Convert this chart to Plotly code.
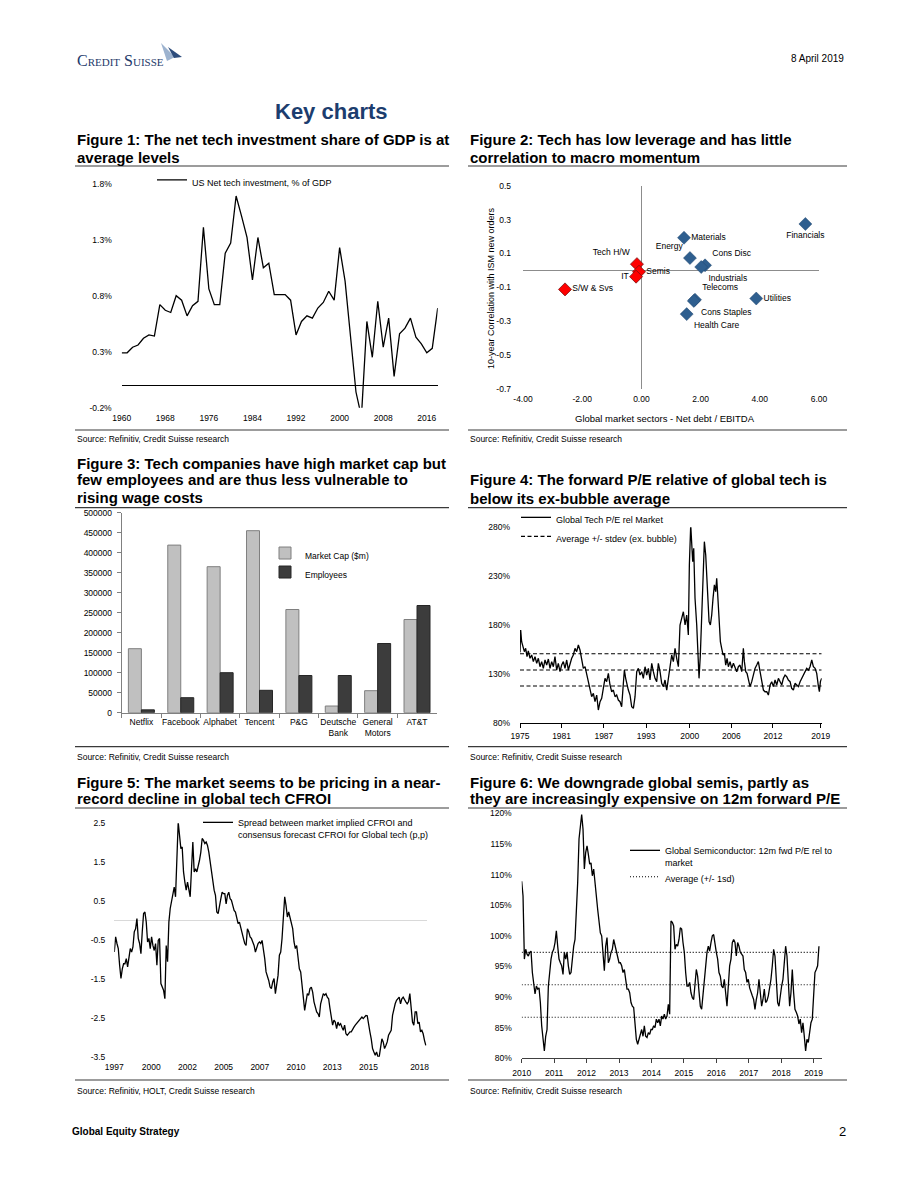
import plotly.graph_objects as go

W, H = 920, 1191
FONT = "Liberation Sans, Arial, sans-serif"


def fx(p):
    return p / W


def fy(p):
    return 1 - p / H


# ---------------- DATA ----------------
# Figure 1: US net tech investment, % of GDP (annual)
gdp_years = list(range(1960, 2019))
gdp_values = [0.29, 0.29, 0.34, 0.36, 0.42, 0.45, 0.44, 0.72, 0.67, 0.65,
              0.80, 0.76, 0.62, 0.71, 0.75, 1.41, 0.86, 0.72, 0.72, 1.18,
              1.27, 1.69, 1.51, 1.32, 0.94, 1.32, 1.05, 1.09, 0.81, 0.81,
              0.81, 0.76, 0.45, 0.57, 0.62, 0.60, 0.69, 0.74, 0.84, 0.76,
              1.23, 0.93, 0.45, -0.06, -0.28, 0.57, 0.25, 0.75, 0.34, 0.60,
              0.08, 0.46, 0.51, 0.60, 0.43, 0.37, 0.29, 0.33, 0.69]
gdp_yticks = [-0.2, 0.3, 0.8, 1.3, 1.8]

# Figure 2: sectors, net debt/EBITDA vs 10y correlation with ISM new orders
sectors = ["Financials", "Materials", "Energy", "Cons Disc", "Industrials",
           "Telecoms", "Cons Staples", "Utilities", "Health Care"]
sector_net_debt = [5.54, 1.44, 1.64, 2.15, 2.02, 1.81, 1.77, 3.88, 1.53]
sector_corr = [0.274, 0.193, 0.073, 0.030, 0.020, -0.173, -0.180, -0.166, -0.258]
sector_label_pos = ["bottom center", "middle right", "top left", "top right", "bottom right",
                    "top right", "bottom right", "middle right", "bottom right"]
tech_sectors = ["Tech H/W", "Semis", "IT", "S/W & Svs"]
tech_net_debt = [-0.15, -0.08, -0.18, -2.58]
tech_corr = [0.037, -0.008, -0.037, -0.112]
tech_label_pos = ["top left", "middle right", "middle left", "middle right"]
scatter_xticks = [-4, -2, 0, 2, 4, 6]
scatter_yticks = [-0.7, -0.5, -0.3, -0.1, 0.1, 0.3, 0.5]

# Figure 3: market cap vs employees
companies = ["Netflix", "Facebook", "Alphabet", "Tencent", "P&G",
             "Deutsche Bank", "General Motors", "AT&T"]
market_cap = [160000, 419000, 365000, 455000, 258000, 16700, 55000, 233000]
employees = [7100, 37500, 100000, 56000, 93000, 93000, 173000, 268000]
bar_yticks = list(range(0, 500001, 50000))

# Figure 4: Global tech P/E relative to market (%)
pe_years = [1975.00, 1975.10, 1975.24, 1975.44, 1975.64, 1975.83, 1976.03, 1976.22, 1976.47, 1976.71,
            1976.96, 1977.20, 1977.45, 1977.69, 1977.93, 1978.18, 1978.42, 1978.67, 1978.91, 1979.16,
            1979.40, 1979.65, 1979.89, 1980.13, 1980.38, 1980.62, 1980.87, 1981.11, 1981.36, 1981.60,
            1981.85, 1982.09, 1982.33, 1982.58, 1982.82, 1983.07, 1983.31, 1983.56, 1983.80, 1984.05,
            1984.29, 1984.54, 1984.78, 1985.02, 1985.27, 1985.51, 1985.76, 1986.00, 1986.25, 1986.49,
            1986.74, 1986.98, 1987.22, 1987.47, 1987.71, 1987.96, 1988.20, 1988.45, 1988.69, 1988.94,
            1989.18, 1989.42, 1989.67, 1989.91, 1990.16, 1990.31, 1990.50, 1990.70, 1990.89, 1991.14,
            1991.38, 1991.63, 1991.87, 1992.12, 1992.36, 1992.60, 1992.85, 1993.09, 1993.34, 1993.58,
            1993.83, 1994.07, 1994.32, 1994.56, 1994.80, 1995.05, 1995.29, 1995.54, 1995.78, 1996.03,
            1996.27, 1996.52, 1996.76, 1997.01, 1997.25, 1997.49, 1997.74, 1997.98, 1998.23, 1998.47,
            1998.72, 1998.96, 1999.21, 1999.45, 1999.69, 1999.84, 2000.04, 2000.18, 2000.33, 2000.48,
            2000.67, 2000.92, 2001.06, 2001.26, 2001.45, 2001.65, 2001.89, 2002.04, 2002.24, 2002.38,
            2002.53, 2002.73, 2002.92, 2003.12, 2003.31, 2003.51, 2003.70, 2003.85, 2004.00, 2004.19,
            2004.39, 2004.58, 2004.78, 2004.98, 2005.17, 2005.37, 2005.56, 2005.81, 2006.05, 2006.30,
            2006.54, 2006.79, 2007.03, 2007.27, 2007.52, 2007.76, 2007.91, 2008.11, 2008.30, 2008.50,
            2008.74, 2008.99, 2009.23, 2009.47, 2009.72, 2009.96, 2010.21, 2010.45, 2010.70, 2010.94,
            2011.19, 2011.43, 2011.68, 2011.92, 2012.16, 2012.41, 2012.65, 2012.90, 2013.14, 2013.39,
            2013.63, 2013.88, 2014.12, 2014.36, 2014.61, 2014.85, 2015.10, 2015.34, 2015.59, 2015.83,
            2016.08, 2016.32, 2016.57, 2016.81, 2017.05, 2017.30, 2017.54, 2017.79, 2018.03, 2018.28,
            2018.52, 2018.77, 2018.91, 2019.06, 2019.25]
pe_values = [152.0, 174.9, 162.9, 157.8, 152.7, 156.1, 147.6, 153.4, 145.9, 149.3,
             142.5, 147.6, 140.8, 145.9, 137.3, 142.5, 135.6, 144.2, 139.0, 145.2,
             135.6, 142.5, 137.3, 147.6, 133.9, 140.8, 132.2, 139.0, 142.5, 135.6,
             144.2, 133.9, 140.8, 145.9, 149.3, 156.1, 152.7, 159.5, 154.4, 145.9,
             135.6, 137.3, 128.8, 122.0, 111.7, 106.6, 110.0, 101.5, 108.3, 93.0,
             101.5, 104.9, 115.2, 125.4, 122.0, 130.5, 118.6, 111.7, 113.4, 106.6,
             108.3, 103.2, 101.5, 96.4, 120.3, 133.9, 125.4, 118.6, 113.4, 108.3,
             96.4, 94.7, 106.6, 132.2, 135.6, 128.8, 132.2, 125.4, 137.3, 128.8,
             135.6, 123.7, 140.8, 132.2, 125.4, 122.0, 140.8, 132.2, 120.3, 116.9,
             123.7, 113.4, 125.4, 142.5, 149.3, 142.5, 156.1, 145.9, 137.3, 180.0,
             186.8, 193.6, 180.0, 190.2, 169.8, 241.4, 282.4, 265.3, 244.8, 258.5,
             207.3, 180.0, 156.1, 125.4, 149.3, 197.1, 248.3, 265.3, 251.7, 227.8,
             210.7, 183.4, 180.0, 190.2, 207.3, 221.0, 214.1, 227.8, 210.7, 190.2,
             162.9, 156.1, 149.3, 151.0, 139.0, 145.9, 137.3, 142.5, 135.6, 140.8,
             135.6, 132.2, 137.3, 139.0, 132.2, 156.1, 142.5, 132.2, 130.5, 125.4,
             116.9, 122.0, 128.8, 135.6, 139.0, 142.5, 132.2, 122.0, 113.4, 111.7,
             111.7, 108.3, 118.6, 122.0, 116.9, 123.7, 118.6, 125.4, 122.0, 118.6,
             125.4, 128.8, 127.1, 123.7, 122.0, 115.2, 113.4, 120.3, 118.6, 116.9,
             122.0, 125.4, 128.8, 133.9, 135.6, 133.9, 137.3, 144.2, 137.3, 135.6,
             130.5, 116.9, 111.7, 122.0, 125.4]
pe_avg = 134.0
pe_sd = 16.5
pe_tick_pos = [1975.0, 1981.1, 1987.3, 1993.5, 1999.9, 2006.0, 2012.1, 2019.1]
pe_tick_text = ["1975", "1981", "1987", "1993", "2000", "2006", "2012", "2019"]
pe_yticks = [80, 130, 180, 230, 280]

# Figure 5: spread between market implied and consensus CFROI (p.p.)
cfroi_start = 1997.0
cfroi_step = 0.09375  # sampling interval in years
cfroi_values = [-0.81, -0.42, -0.59, -0.72, -1.15,
                -1.49, -1.24, -1.11, -1.11, -0.98, -1.19, -0.89, -0.72, -0.81, -0.68,
                -0.29, -0.21, 0.05, -0.46, -0.59, -0.85, -0.29, 0.18, 0.22, -0.04,
                -0.55, -0.46, -0.72, -0.42, -0.64, -0.77, -0.59, -1.15, -0.51, -0.46,
                -1.62, -1.71, -1.79, -2.01, -0.64, -1.06, -0.04, 0.31, 0.52, 0.65,
                0.86, 0.61, 1.51, 2.53, 2.19, 1.85, 1.89, 1.25, 0.99, 0.78,
                0.99, 0.82, 0.61, 1.33, 2.02, 1.25, 1.33, 1.25, 1.38, 1.55,
                1.76, 2.11, 2.06, 1.98, 2.02, 1.93, 1.76, 1.51, 1.16, 0.95,
                0.78, 0.65, 0.22, 0.18, 0.43, 0.56, 0.73, 0.69, 0.69, 0.43,
                0.65, 0.73, 0.56, 0.52, 0.39, 0.26, 0.22, 0.05, -0.08, -0.04,
                -0.21, -0.34, -0.46, -0.59, -0.64, -0.21, -0.29, -0.42, -0.46, -0.55,
                -0.64, -0.81, -0.68, -0.59, -0.55, -0.59, -0.51, -0.72, -0.98, -1.32,
                -1.41, -1.54, -1.71, -1.75, -1.58, -1.49, -1.88, -1.66, -1.41, -0.89,
                -0.81, -0.46, 0.22, 0.61, 0.39, 0.09, 0.22, 0.05, -0.12, -0.21,
                -0.55, -0.72, -0.64, -0.89, -1.24, -1.32, -1.71, -1.92, -2.31, -2.09,
                -1.88, -1.92, -1.75, -1.71, -1.84, -2.09, -2.22, -2.35, -2.39, -2.48,
                -2.14, -2.01, -1.88, -1.92, -1.88, -1.97, -2.01, -2.26, -2.52, -2.69,
                -2.56, -2.61, -2.78, -2.61, -2.69, -2.65, -2.74, -2.82, -2.69, -2.91,
                -2.95, -2.91, -2.86, -2.86, -2.78, -2.74, -2.69, -2.65, -2.61, -2.56,
                -2.52, -2.48, -2.52, -2.48, -2.44, -2.45, -2.61, -2.86, -3.04, -3.29,
                -3.38, -3.46, -3.38, -3.50, -3.50, -3.21, -3.04, -3.12, -3.29, -3.21,
                -3.12, -2.95, -2.86, -2.82, -2.44, -2.26, -2.14, -2.05, -2.01, -1.97,
                -2.14, -2.01, -1.97, -2.05, -2.09, -2.14, -2.09, -1.88, -2.35, -2.61,
                -2.69, -2.35, -2.35, -2.65, -2.61, -2.86, -2.82, -2.91, -3.08, -3.21]
cfroi_years = [cfroi_start + cfroi_step * i for i in range(len(cfroi_values))]
cfroi_tick_pos = [1997.0, 1999.6, 2002.15, 2004.7, 2007.25, 2009.8, 2012.35, 2014.9, 2018.5]
cfroi_tick_text = ["1997", "2000", "2002", "2005", "2007", "2010", "2013", "2015", "2018"]
cfroi_yticks = [-3.5, -2.5, -1.5, -0.5, 0.5, 1.5, 2.5]

# Figure 6: Global semis 12m fwd P/E relative to market (%)
semis_start = 2010.0
semis_step = 0.0411  # sampling interval in years
semis_values = [108.9, 106.5, 96.2, 97.8, 97.0, 96.7, 97.3, 97.5, 94.0, 92.4,
                90.5, 91.8, 91.3, 91.5, 89.1, 85.3, 82.6, 81.2, 83.6, 84.7,
                91.8, 94.5, 96.2, 97.3, 97.8, 98.9, 100.8, 98.3, 96.2, 95.6,
                95.1, 93.7, 97.3, 96.2, 97.3, 95.1, 93.7, 94.0, 96.4, 98.3,
                99.4, 103.2, 108.7, 115.8, 117.4, 119.8, 117.4, 110.9, 113.6, 114.7,
                113.3, 111.7, 111.9, 109.8, 110.9, 108.1, 106.5, 104.3, 102.7, 100.5,
                100.0, 97.3, 94.3, 98.3, 99.7, 95.6, 96.2, 97.3, 97.8, 99.4,
                98.3, 97.8, 96.7, 95.6, 95.6, 95.1, 94.0, 94.5, 92.9, 91.3,
                91.3, 90.7, 89.1, 88.5, 88.3, 85.8, 83.1, 82.3, 83.1, 84.2,
                84.7, 83.6, 85.3, 83.6, 83.4, 84.2, 83.9, 84.7, 84.7, 85.3,
                85.0, 86.4, 85.8, 86.4, 85.3, 86.9, 86.4, 87.2, 86.4, 86.9,
                88.8, 87.2, 102.4, 102.2, 101.6, 97.8, 98.6, 98.3, 99.4, 101.3,
                101.1, 98.9, 97.3, 94.0, 91.8, 91.8, 92.4, 90.7, 89.9, 89.6,
                92.9, 94.5, 93.4, 90.2, 88.5, 88.0, 90.7, 92.9, 95.1, 97.3,
                98.3, 97.5, 98.9, 100.0, 100.2, 98.3, 97.3, 96.2, 94.0, 93.4,
                91.8, 91.5, 92.9, 90.7, 88.5, 91.8, 95.1, 96.2, 98.9, 99.4,
                98.9, 96.7, 98.9, 98.3, 97.3, 97.0, 96.7, 94.5, 94.0, 92.4,
                92.9, 91.5, 90.7, 90.2, 89.6, 88.0, 89.6, 90.7, 92.9, 90.7,
                88.5, 89.6, 91.3, 89.1, 89.4, 90.2, 91.3, 92.9, 95.1, 97.8,
                96.7, 91.8, 89.1, 88.5, 90.7, 91.8, 92.9, 95.6, 98.3, 96.7,
                92.9, 88.5, 90.7, 94.5, 90.7, 88.0, 87.5, 86.9, 85.6, 86.4,
                84.2, 85.8, 83.6, 81.2, 83.1, 82.6, 84.2, 85.8, 86.4, 90.7,
                94.0, 94.5, 95.1, 98.3]
semis_years = [semis_start + semis_step * i for i in range(len(semis_values))]
semis_avg = 92.0
semis_sd = 5.3
semis_tick_years = list(range(2010, 2020))
semis_yticks = [80, 85, 90, 95, 100, 105, 110, 115, 120]

assert len(pe_years) == len(pe_values)
assert len(gdp_years) == len(gdp_values)

# ---------------- FIGURE ----------------
fig = go.Figure()

# Fig 1
fig.add_trace(go.Scatter(x=gdp_years, y=gdp_values, mode="lines",
                         line=dict(color="black", width=1.3),
                         name="US Net tech investment, % of GDP",
                         xaxis="x", yaxis="y", legend="legend"))

# Fig 2
fig.add_trace(go.Scatter(x=sector_net_debt, y=sector_corr, mode="markers+text",
                         text=sectors, textposition=sector_label_pos, cliponaxis=False,
                         textfont=dict(family=FONT, size=8.5, color="black"),
                         marker=dict(symbol="diamond", size=10, color="#2F5F8F",
                                     line=dict(color="#24496f", width=0.5)),
                         showlegend=False, xaxis="x2", yaxis="y2"))
fig.add_trace(go.Scatter(x=tech_net_debt, y=tech_corr, mode="markers+text",
                         text=tech_sectors, textposition=tech_label_pos, cliponaxis=False,
                         textfont=dict(family=FONT, size=8.5, color="black"),
                         marker=dict(symbol="diamond", size=10, color="#FF0000",
                                     line=dict(color="#7a1010", width=0.8)),
                         showlegend=False, xaxis="x2", yaxis="y2"))

# Fig 3
fig.add_trace(go.Bar(x=companies, y=market_cap, name="Market Cap ($m)",
                     marker=dict(color="#C0C0C0", line=dict(color="#7F7F7F", width=1)),
                     xaxis="x3", yaxis="y3", legend="legend2"))
fig.add_trace(go.Bar(x=companies, y=employees, name="Employees",
                     marker=dict(color="#3C3C3C", line=dict(color="#262626", width=1)),
                     xaxis="x3", yaxis="y3", legend="legend2"))

# Fig 4
fig.add_trace(go.Scatter(x=pe_years, y=pe_values, mode="lines",
                         line=dict(color="black", width=1.3),
                         name="Global Tech P/E rel Market",
                         xaxis="x4", yaxis="y4", legend="legend3"))
x0, x1 = pe_years[0], pe_years[-1]
fig.add_trace(go.Scatter(
    x=[x0, x1, None, x0, x1, None, x0, x1],
    y=[pe_avg + pe_sd] * 2 + [None] + [pe_avg] * 2 + [None] + [pe_avg - pe_sd] * 2,
    mode="lines", line=dict(color="black", width=1.1, dash="4px,2.5px"),
    name="Average +/- stdev (ex. bubble)", xaxis="x4", yaxis="y4", legend="legend3"))

# Fig 5
fig.add_trace(go.Scatter(x=cfroi_years, y=cfroi_values, mode="lines",
                         line=dict(color="black", width=1.3),
                         name="Spread between market implied CFROI and<br>consensus forecast CFROI for Global tech (p,p)",
                         xaxis="x5", yaxis="y5", legend="legend4"))

# Fig 6
fig.add_trace(go.Scatter(x=semis_years, y=semis_values, mode="lines",
                         line=dict(color="black", width=1.3),
                         name="Global Semiconductor: 12m fwd P/E rel to<br>market",
                         xaxis="x6", yaxis="y6", legend="legend5"))
s0, s1 = semis_years[0], semis_years[-1]
fig.add_trace(go.Scatter(
    x=[s0, s1, None, s0, s1, None, s0, s1],
    y=[semis_avg + semis_sd] * 2 + [None] + [semis_avg] * 2 + [None] + [semis_avg - semis_sd] * 2,
    mode="lines", line=dict(color="black", width=1.1, dash="1px,2px"),
    name="Average (+/- 1sd)", xaxis="x6", yaxis="y6", legend="legend5"))

# ---------------- AXES ----------------
TICKFONT = dict(family=FONT, size=8.5, color="black")


def xdom(a, b):
    return [fx(a), fx(b)]


def ydom(top, bottom):
    return [fy(bottom), fy(top)]


base = dict(showgrid=False, zeroline=False, showline=False, ticks="", automargin=False,
            tickfont=TICKFONT, fixedrange=True)

layout_axes = {
    # Fig 1
    "xaxis": dict(base, domain=xdom(121.7, 437.7), anchor="y", range=[1960, 2018],
                  tickmode="linear", tick0=1960, dtick=8, ticklabelstandoff=4),
    "yaxis": dict(base, domain=ydom(183.7, 407.7), anchor="x", range=[-0.2, 1.8],
                  tickvals=gdp_yticks, ticktext=[f"{v:.1f}%" for v in gdp_yticks],
                  zeroline=True, zerolinecolor="black", zerolinewidth=1.2,
                  ticklabelstandoff=9),
    # Fig 2
    "xaxis2": dict(base, domain=xdom(523, 819), anchor="y2", range=[-4, 6],
                   tickvals=scatter_xticks, ticktext=[f"{v:.2f}" for v in scatter_xticks],
                   zeroline=True, zerolinecolor="#8c8c8c", zerolinewidth=1,
                   ticklabelstandoff=3),
    "yaxis2": dict(base, domain=ydom(185.7, 389), anchor="x2", range=[-0.7, 0.5],
                   tickvals=scatter_yticks, ticktext=[f"{v:.1f}" for v in scatter_yticks],
                   zeroline=True, zerolinecolor="#8c8c8c", zerolinewidth=1,
                   ticklabelstandoff=11),
    # Fig 3
    "xaxis3": dict(base, domain=xdom(121.7, 436.7), anchor="y3", type="category",
                   showline=True, linecolor="#808080", linewidth=1, tickangle=0,
                   ticks="outside", ticklen=4, tickcolor="#808080", tickson="boundaries",
                   tickvals=companies, ticktext=[c.replace(" ", "<br>") for c in companies],
                   ticklabelstandoff=1),
    "yaxis3": dict(base, domain=ydom(512.7, 712.7), anchor="x3", range=[0, 500000],
                   tickvals=bar_yticks, ticktext=[str(v) for v in bar_yticks],
                   showline=True, linecolor="#808080", linewidth=1,
                   ticks="outside", ticklen=4, tickcolor="#808080", ticklabelstandoff=3),
    # Fig 4
    "xaxis4": dict(base, domain=xdom(520, 821.7), anchor="y4", range=[1975, 2019.25],
                   tickvals=pe_tick_pos, ticktext=pe_tick_text,
                   showline=True, linecolor="black", linewidth=1,
                   ticks="outside", ticklen=4, tickcolor="black", ticklabelstandoff=1),
    "yaxis4": dict(base, domain=ydom(527.3, 722.7), anchor="x4", range=[80, 280],
                   tickvals=pe_yticks, ticktext=[f"{v}%" for v in pe_yticks],
                   ticklabelstandoff=9),
    # Fig 5
    "xaxis5": dict(base, domain=xdom(114.3, 426.7), anchor="y5", range=[1997, 2019],
                   tickvals=cfroi_tick_pos, ticktext=cfroi_tick_text, ticklabelstandoff=4),
    "yaxis5": dict(base, domain=ydom(823.3, 1056.7), anchor="x5", range=[-3.5, 2.5],
                   tickvals=cfroi_yticks, ticktext=[f"{v:.1f}" for v in cfroi_yticks],
                   zeroline=True, zerolinecolor="#d9d9d9", zerolinewidth=1,
                   ticklabelstandoff=8),
    # Fig 6
    "xaxis6": dict(base, domain=xdom(521.7, 821.7), anchor="y6", range=[2010, 2019.25],
                   tickvals=semis_tick_years, ticktext=[str(y) for y in semis_tick_years],
                   showline=True, linecolor="#404040", linewidth=1,
                   ticks="outside", ticklen=4, tickcolor="#404040", ticklabelstandoff=2),
    "yaxis6": dict(base, domain=ydom(813.3, 1058.3), anchor="x6", range=[80, 120],
                   tickvals=semis_yticks, ticktext=[f"{v}%" for v in semis_yticks],
                   ticklabelstandoff=9),
}

# ---------------- LEGENDS ----------------
LEGFONT = dict(family=FONT, size=9, color="black")
leg = dict(bgcolor="rgba(0,0,0,0)", borderwidth=0, font=LEGFONT, itemwidth=30,
           tracegroupgap=0, xanchor="left", yanchor="top", valign="top",
           itemclick=False, itemdoubleclick=False)
legends = {
    "legend": dict(leg, x=fx(152), y=fy(167.5)),
    "legend2": dict(leg, x=fx(265), y=fy(541), font=dict(LEGFONT, size=8.5)),
    "legend3": dict(leg, x=fx(516), y=fy(505)),
    "legend4": dict(leg, x=fx(198), y=fy(810)),
    "legend5": dict(leg, x=fx(625), y=fy(838)),
}

# ---------------- TEXT ----------------
ann = []


def text(x, y, s, size=8.5, bold=False, anchor="left", color="black", family=FONT, **kw):
    ann.append(dict(x=fx(x), y=fy(y), xref="paper", yref="paper",
                    text=f"<b>{s}</b>" if bold else s, showarrow=False,
                    xanchor=anchor, yanchor="middle",
                    font=dict(family=family, size=size, color=color), **kw))


# header / footer
ann.append(dict(x=fx(75), y=fy(60), xref="paper", yref="paper", text="Credit Suisse",
                showarrow=False, xanchor="left", yanchor="middle",
                font=dict(family="Liberation Serif, serif", size=16, color="#1d3a6b",
                          variant="small-caps")))
text(846, 59, "8 April 2019", size=10, anchor="right")
text(331, 111, "Key charts", size=22, bold=True, anchor="center", color="#1c3d6e")
text(70, 1131, "Global Equity Strategy", size=10, bold=True)
text(848, 1131, "2", size=13, anchor="right")

titles = [
    (75, [140, 157], ["Figure 1: The net tech investment share of GDP is at", "average levels"]),
    (468, [140, 157], ["Figure 2: Tech has low leverage and has little", "correlation to macro momentum"]),
    (75, [463, 480, 497], ["Figure 3: Tech companies have high market cap but",
                           "few employees and are thus less vulnerable to", "rising wage costs"]),
    (468, [480, 498], ["Figure 4: The forward P/E relative of global tech is",
                       "below its ex-bubble average"]),
    (75, [782, 799], ["Figure 5: The market seems to be pricing in a near-",
                      "record decline in global tech CFROI"]),
    (468, [782, 799], ["Figure 6: We downgrade global semis, partly as",
                       "they are increasingly expensive on 12m forward P/E"]),
]
for x, ys, lines in titles:
    for y, s in zip(ys, lines):
        text(x, y, s, size=15, bold=True)

sources = [
    (75, 439, "Source: Refinitiv, Credit Suisse research"),
    (468, 439, "Source: Refinitiv, Credit Suisse research"),
    (75, 757, "Source: Refinitiv, Credit Suisse research"),
    (468, 757, "Source: Refinitiv, Credit Suisse research"),
    (75, 1091, "Source: Refinitiv, HOLT, Credit Suisse research"),
    (468, 1091, "Source: Refinitiv, Credit Suisse research"),
]
for x, y, s in sources:
    text(x, y, s, size=8.5)

# fig 2 axis titles
text(665, 418, "Global market sectors - Net debt / EBITDA", size=9.5, anchor="center")
text(491, 288, "10-year Correlation with ISM new orders", size=9, anchor="center", textangle=-90)

# ---------------- SHAPES ----------------
shapes = []
rule_color = "#3a3a3a"
rules = [
    (75, 449, 166), (468, 847, 166),
    (75, 449, 430), (468, 847, 430),
    (75, 449, 507.7), (468, 847, 507.7),
    (75, 449, 746.7), (468, 847, 746.7),
    (75, 449, 808), (468, 847, 808),
    (75, 449, 1080), (468, 847, 1080),
]
for a, b, y in rules:
    shapes.append(dict(type="line", xref="paper", yref="paper",
                       x0=fx(a), x1=fx(b), y0=fy(y), y1=fy(y),
                       line=dict(color=rule_color, width=1.2)))


def path(points):
    return "M " + " L ".join(f"{fx(px):.5f},{fy(py):.5f}" for px, py in points) + " Z"


shapes.append(dict(type="path", xref="paper", yref="paper",
                   path=path([(161, 43), (175, 57), (167, 61)]),
                   fillcolor="#9db3cf", line=dict(width=0)))
shapes.append(dict(type="path", xref="paper", yref="paper",
                   path=path([(168, 47), (182, 57), (174, 58)]),
                   fillcolor="#2c4c7c", line=dict(width=0)))

fig.update_layout(
    template="none",
    width=W, height=H, margin=dict(l=0, r=0, t=0, b=0, pad=0), autosize=False,
    paper_bgcolor="white", plot_bgcolor="white",
    font=dict(family=FONT, size=9, color="black"),
    showlegend=True, hovermode=False,
    barmode="group", bargap=0.34, bargroupgap=0.0,
    annotations=ann, shapes=shapes,
    **layout_axes, **legends,
)

fig.write_html("out.html", config={"displayModeBar": False, "staticPlot": False},
               post_script="document.body.style.margin='0px';document.body.style.padding='0px';")
